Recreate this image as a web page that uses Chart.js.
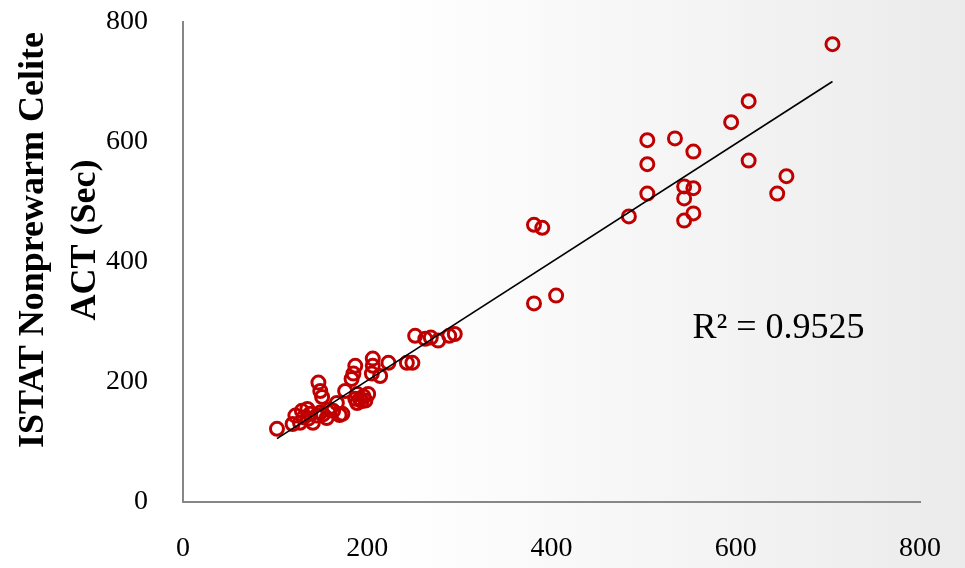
<!DOCTYPE html>
<html>
<head>
<meta charset="UTF-8">
<title>ISTAT Nonprewarm Celite ACT</title>
<script src="https://cdn.jsdelivr.net/npm/chart.js@4"></script>
<style>
	body { margin:0; }
	#wrap { width:965px; height:568px; background: linear-gradient(to right, #ffffff 40%, #ebebeb 100%); }
</style>
</head>
<body>
<div id="wrap"><canvas id="myChart" width="965" height="568"></canvas></div>

<script>
	// measured points (x, y in sec)
	var xValues = [102, 119, 122, 127, 129, 135, 136, 141, 145, 149,
		147, 149, 151, 156, 163, 170, 173, 167, 176, 183,
		185, 187, 189, 189, 192, 198, 201, 205, 206, 206,
		214, 223, 243, 249, 252, 263, 269, 277, 289, 295,
		187, 381, 390, 381, 405, 484, 504, 504, 504, 534,
		554, 544, 554, 544, 554, 544, 595, 614, 614, 655,
		645, 705, 131, 138, 152, 159, 194, 196];
	var yValues = [122, 130, 144, 132, 152, 155, 139, 132, 144, 149,
		199, 185, 175, 140, 152, 145, 147, 165, 185, 205,
		214, 227, 180, 165, 172, 169, 180, 214, 239, 227,
		210, 232, 232, 232, 277, 272, 274, 269, 277, 280,
		172, 462, 457, 331, 344, 476, 514, 563, 603, 606,
		584, 526, 523, 506, 481, 469, 633, 668, 569, 543,
		514, 763, 141, 147, 146, 154, 168, 176];
	var tickValues = [0, 200, 400, 600, 800];
	var yTitle = ["ISTAT Nonprewarm Celite", "ACT (Sec)"];
	// trend line (y = a*x + b)
	var trendSlope = 0.987;
	var trendIntercept = 5;
	var rSquaredText = "R\u00b2 = 0.9525";
	var rLabelAt = [553, 274];

	var xMin = Math.min.apply(null, xValues), xMax = Math.max.apply(null, xValues);
	var trendPoints = [
		{x: xMin, y: trendIntercept + trendSlope * xMin},
		{x: xMax, y: trendIntercept + trendSlope * xMax}
	];
	var points = xValues.map(function (v, i) { return {x: v, y: yValues[i]}; });

	// R² text and rotated y title
	var labels = {
		id: 'labels',
		afterDraw: function (chart) {
			var ctx = chart.ctx, area = chart.chartArea;
			ctx.save();
			ctx.fillStyle = '#000';
			ctx.font = '36px "Liberation Serif"';
			ctx.textAlign = 'left';
			ctx.textBaseline = 'alphabetic';
			ctx.fillText(rSquaredText, chart.scales.x.getPixelForValue(rLabelAt[0]), chart.scales.y.getPixelForValue(rLabelAt[1]));

			ctx.font = 'bold 36px "Liberation Serif"';
			ctx.textAlign = 'center';
			ctx.textBaseline = 'middle';
			ctx.translate(0, (area.top + area.bottom) / 2 - 22);
			ctx.rotate(-Math.PI / 2);
			ctx.fillText(yTitle[0], 0, 34);
			ctx.fillText(yTitle[1], 0, 86);
			ctx.restore();
		}
	};

	var tickFont = {family: '"Liberation Serif", serif', size: 28};

	new Chart("myChart", {
		type: "scatter",
		data: {
			datasets: [{
				data: points,
				pointStyle: 'circle',
				pointRadius: 6.5,
				pointBorderWidth: 3,
				pointBorderColor: '#c00000',
				pointBackgroundColor: 'rgba(0,0,0,0)',
				order: 2
			}, {
				type: 'line',
				data: trendPoints,
				borderColor: '#000',
				borderWidth: 1.6,
				pointRadius: 0,
				fill: false,
				order: 1
			}]
		},
		options: {
			responsive: false,
			animation: false,
			layout: {padding: {top: 22, right: 45, left: 0, bottom: 0}},
			plugins: {legend: {display: false}, tooltip: {enabled: false}},
			scales: {
				x: {
					type: 'linear', min: 0, max: 800,
					afterBuildTicks: function (s) { s.ticks = tickValues.map(function (v) { return {value: v}; }); },
					afterFit: function (s) { s.height = 66; s.paddingLeft = 0; s.paddingRight = 0; },
					grid: {display: false, drawTicks: false},
					border: {display: true, color: '#878787', width: 2},
					ticks: {color: '#000', font: tickFont, padding: 30}
				},
				y: {
					type: 'linear', min: 0, max: 800,
					afterBuildTicks: function (s) { s.ticks = tickValues.map(function (v) { return {value: v}; }); },
					afterFit: function (s) { s.width = 183; s.paddingTop = 0; s.paddingBottom = 0; },
					grid: {display: false, drawTicks: false},
					border: {display: true, color: '#878787', width: 2},
					ticks: {color: '#000', font: tickFont, padding: 35}
				}
			}
		},
		plugins: [labels]
	});
</script>
</body>
</html>
